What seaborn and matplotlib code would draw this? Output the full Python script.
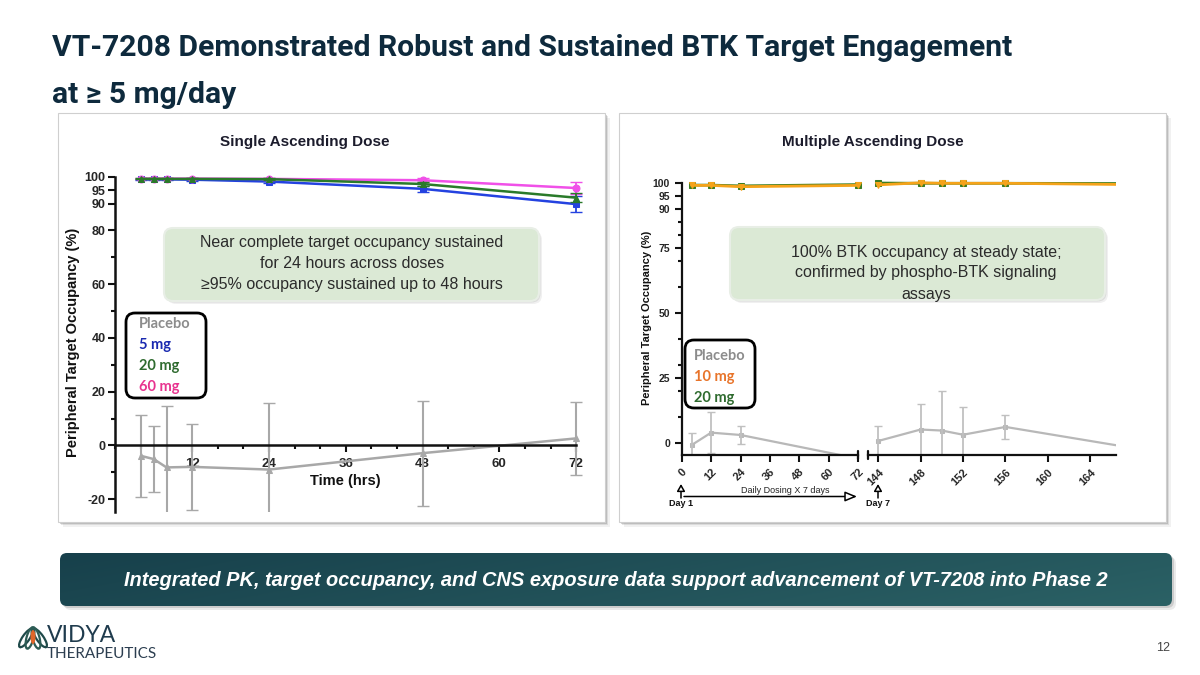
import numpy as np
import matplotlib
matplotlib.use("Agg")
import matplotlib.pyplot as plt
import seaborn as sns
from matplotlib.patches import FancyBboxPatch, Rectangle, Ellipse

sns.set_theme(style="ticks")
plt.rcParams['font.family'] = ['Liberation Sans', 'DejaVu Sans']

# ---- data ----
sad_time = [4, 6, 8, 12, 24, 48, 72]
sad_placebo = [-3.9, -5.1, -8.2, -8.0, -9.0, -2.9, 2.6]
sad_placebo_err = [15.2, 12.2, 23.0, 16.0, 24.6, 19.6, 13.6]
sad_5mg = [99.0, 99.0, 99.0, 98.9, 98.2, 95.5, 89.8]
sad_5mg_err = [0.3, 0.3, 0.3, 0.4, 0.6, 1.2, 3.0]
sad_20mg = [99.2, 99.2, 99.2, 99.2, 99.1, 97.3, 92.2]
sad_20mg_err = [0.2, 0.2, 0.2, 0.2, 0.3, 0.8, 1.6]
sad_60mg = [99.3, 99.3, 99.3, 99.3, 99.2, 98.7, 95.8]
sad_60mg_err = [0.2, 0.2, 0.2, 0.2, 0.3, 0.7, 2.4]

mad_time_d1 = [4, 12, 24, 72]
mad_10mg_d1 = [99.2, 99.2, 98.7, 99.2]
mad_20mg_d1 = [99.3, 99.3, 99.0, 99.5]
mad_placebo_d1 = [-0.7, 4.1, 3.2, -5.9]
mad_placebo_d1_err = [4.8, 8.0, 3.5, 0.0]

mad_time_d7 = [144, 148, 150, 152, 156, 168]
mad_10mg_d7 = [99.4, 100.2, 100.0, 100.0, 100.0, 99.5]
mad_20mg_d7 = [100.1, 100.0, 100.0, 100.0, 100.0, 99.9]
mad_placebo_d7 = [0.9, 5.3, 4.9, 3.3, 6.3, -1.8]
mad_placebo_d7_err = [5.7, 9.7, 15.2, 10.5, 4.7, 0.0]

sad_xticks = [12, 24, 36, 48, 60, 72]
sad_yticks = [-20, 0, 20, 40, 60, 80, 90, 95, 100]
mad_xticks_d1 = [0, 12, 24, 36, 48, 60, 72]
mad_xticks_d7 = [144, 148, 152, 156, 160, 164]
mad_yticks = [0, 25, 50, 75, 90, 95, 100]

C_BLUE, C_GREEN, C_MAG, C_GRAY = '#2442e0', '#2a7a2a', '#f050e8', '#a8a8a8'
C_ORANGE, C_MGREEN = '#f5a31a', '#3a7d22'

W, H = 1200, 675
fig = plt.figure(figsize=(12, 6.75), dpi=100)
fig.patch.set_facecolor('white')


def px_axes(x0, y0, x1, y1, z=1):
    return fig.add_axes([x0 / W, 1 - y1 / H, (x1 - x0) / W, (y1 - y0) / H], zorder=z)


# background layer: panels, banner, logo
bg = px_axes(0, 0, W, H, z=0)
bg.set_xlim(0, W)
bg.set_ylim(H, 0)
bg.axis('off')

for (x0, x1) in [(58, 605), (619, 1166)]:
    for k, a in [(5, 0.10), (3, 0.18), (1.5, 0.3)]:
        bg.add_patch(Rectangle((x0 + k, 113 + k), x1 - x0, 409, fc='#777777', ec='none', alpha=a))
    bg.add_patch(Rectangle((x0, 113), x1 - x0, 409, fc='white', ec='#cfcfcf', lw=0.8))

# banner with gradient
for k, a in [(4, 0.12), (2, 0.2)]:
    bg.add_patch(FancyBboxPatch((60 + k, 553 + k), 1112, 53, boxstyle="round,pad=0,rounding_size=7",
                                fc='#555555', ec='none', alpha=a))
banner = FancyBboxPatch((60, 553), 1112, 53, boxstyle="round,pad=0,rounding_size=7", fc='none', ec='none')
bg.add_patch(banner)
gx = np.linspace(0, 1, 256)
gy = np.linspace(0, 1, 32)[:, None]
c0 = np.array([0x17, 0x40, 0x4b]) / 255
c1 = np.array([0x2b, 0x61, 0x65]) / 255
t = np.clip(0.8 * gx[None, :] + 0.2 * gy, 0, 1)[..., None]
grad = c0 * (1 - t) + c1 * t
im = bg.imshow(grad, extent=(60, 1172, 606, 553), aspect='auto', zorder=2)
im.set_clip_path(banner)
bg.text(616, 580, "Integrated PK, target occupancy, and CNS exposure data support advancement of VT-7208 into Phase 2",
        ha='center', va='center', color='white', fontsize=14.4, fontweight='bold', fontstyle='italic', zorder=3)

# title
bg.text(52, 48, "VT-7208 Demonstrated Robust and Sustained BTK Target Engagement", ha='left', va='center',
        fontsize=21.7, fontweight='bold', color='#0e2a3d', family=['Roboto', 'DejaVu Sans'])
bg.text(52, 95, "at \u2265 5 mg/day", ha='left', va='center',
        fontsize=21.7, fontweight='bold', color='#0e2a3d', family=['Roboto', 'DejaVu Sans'])

# logo
for ang, dx, col in [(35, -7, '#1f4a4a'), (-35, 7, '#1f4a4a'), (15, -3, '#2d5c55'), (-15, 3, '#2d5c55')]:
    bg.add_patch(Ellipse((33 + dx, 638), 7, 22, angle=ang, fc='none', ec=col, lw=1.6))
bg.add_patch(Ellipse((33, 637), 5, 14, fc='#e0662a', ec='none'))
bg.text(47, 636, "VIDYA", ha='left', va='center', fontsize=16.5, color='#1f3b4d', family=['Lato', 'DejaVu Sans'])
bg.text(47, 654, "THERAPEUTICS", ha='left', va='center', fontsize=11, color='#2c3e50',
        family=['Lato', 'DejaVu Sans'])
bg.text(1163, 648, "12", ha='center', va='center', fontsize=9, color='#444444')

# panel titles and axis labels
bg.text(305, 142, "Single Ascending Dose", ha='center', va='center', fontsize=11, fontweight='bold', color='#1c1c2c')
bg.text(873, 142, "Multiple Ascending Dose", ha='center', va='center', fontsize=11, fontweight='bold', color='#1c1c2c')
bg.text(73, 342, "Peripheral Target Occupancy (%)", rotation=90, ha='center', va='center',
        fontsize=10.5, fontweight='bold', color='#111111')
bg.text(345, 481, "Time (hrs)", ha='center', va='center', fontsize=10.5, fontweight='bold', color='#111111')
bg.text(647, 318, "Peripheral Target Occupancy (%)", rotation=90, ha='center', va='center',
        fontsize=8, fontweight='bold', color='#111111')


def style_axis(ax):
    ax.set_facecolor('none')
    for s in ['top', 'right']:
        ax.spines[s].set_visible(False)
    for s in ['left', 'bottom']:
        ax.spines[s].set_linewidth(1.8)
        ax.spines[s].set_color('#111111')
    ax.tick_params(which='both', direction='out', width=1.5, color='#111111')
    ax.tick_params(which='major', length=5)
    ax.tick_params(which='minor', length=3)
    ax.set_xlabel('')
    ax.set_ylabel('')


# ---- Single ascending dose ----
axL = px_axes(115.3, 172.7, 115.3 + 74 * 6.4, 512)
sns.lineplot(x=sad_time, y=sad_placebo, ax=axL, color=C_GRAY, lw=1.8, marker='^', markersize=5,
             markeredgecolor=C_GRAY)
axL.errorbar(sad_time, sad_placebo, yerr=sad_placebo_err, fmt='none', ecolor=C_GRAY, elinewidth=1.5, capsize=4)
for yv, ye, col, mk in [(sad_5mg, sad_5mg_err, C_BLUE, 's'), (sad_60mg, sad_60mg_err, C_MAG, 'o'),
                        (sad_20mg, sad_20mg_err, C_GREEN, '^')]:
    sns.lineplot(x=sad_time, y=yv, ax=axL, color=col, lw=1.8, marker=mk, markersize=5, markeredgecolor=col)
    axL.errorbar(sad_time, yv, yerr=ye, fmt='none', ecolor=col, elinewidth=1.3, capsize=4)
axL.set_xlim(0, 74)
axL.set_ylim(-24.8, 101.5)
style_axis(axL)
axL.spines['left'].set_bounds(-24.8, 100)
axL.spines['bottom'].set_position(('data', 0))
axL.spines['bottom'].set_bounds(0, 72)
axL.set_xticks(sad_xticks)
axL.set_xticklabels([str(v) for v in sad_xticks], fontsize=9.5, fontweight='bold')
axL.set_xticks([v for v in range(0, 73, 4) if v % 12 != 0 or v == 0], minor=True)
axL.set_yticks(sad_yticks)
axL.set_yticklabels([str(v) for v in sad_yticks], fontsize=9, fontweight='bold')
axL.set_yticks([-10, 10, 30, 50, 70], minor=True)
axL.tick_params(axis='x', pad=4)
axL.tick_params(axis='y', pad=2)

# ---- Multiple ascending dose (broken axis) ----
axM1 = px_axes(681.7, 178.1, 681.7 + 74 * 2.453, 455)
axM2 = px_axes(868.3, 178.1, 868.3 + (166.4 - 143.06) * 10.6, 455)
for ax, tx, p, pe, g, o in [(axM1, mad_time_d1, mad_placebo_d1, mad_placebo_d1_err, mad_20mg_d1, mad_10mg_d1),
                            (axM2, mad_time_d7, mad_placebo_d7, mad_placebo_d7_err, mad_20mg_d7, mad_10mg_d7)]:
    sns.lineplot(x=tx, y=p, ax=ax, color='#b8b8b8', lw=1.6, marker='s', markersize=3.5, markeredgecolor='#b8b8b8')
    ax.errorbar(tx, p, yerr=pe, fmt='none', ecolor='#c0c0c0', elinewidth=1.3, capsize=3)
    sns.lineplot(x=tx, y=g, ax=ax, color=C_MGREEN, lw=2, marker='s', markersize=4, markeredgecolor=C_MGREEN)
    sns.lineplot(x=tx, y=o, ax=ax, color=C_ORANGE, lw=2, marker='v', markersize=4, markeredgecolor=C_ORANGE)
    ax.set_ylim(-4.5, 102)
    style_axis(ax)
    ax.spines['bottom'].set_linewidth(1.6)
    ax.spines['left'].set_linewidth(1.6)

axM1.set_xlim(0, 74)
axM1.spines['left'].set_bounds(-4.5, 100)
axM1.spines['bottom'].set_bounds(0, 72)
axM1.set_xticks(mad_xticks_d1)
axM1.set_xticklabels([str(v) for v in mad_xticks_d1], rotation=45, ha='right', rotation_mode='anchor',
                     fontsize=8, fontweight='bold')
axM1.set_yticks(mad_yticks)
axM1.set_yticklabels([str(v) for v in mad_yticks], fontsize=7.5, fontweight='bold')
axM1.set_yticks([10, 20, 30, 40, 60, 70, 80, 85], minor=True)
axM1.plot([72, 72], [-6.0, -3.0], color='#111111', lw=1.6, clip_on=False)

axM2.set_xlim(143.06, 166.4)
axM2.spines['left'].set_visible(False)
axM2.set_yticks([])
axM2.set_xticks(mad_xticks_d7)
axM2.set_xticklabels([str(v) for v in mad_xticks_d7], rotation=45, ha='right', rotation_mode='anchor',
                     fontsize=8, fontweight='bold')
axM2.plot([143.06, 143.06], [-6.0, -3.0], color='#111111', lw=1.6, clip_on=False)

# overlay: callouts, legends, dosing annotations
ov = px_axes(0, 0, W, H, z=5)
ov.set_xlim(0, W)
ov.set_ylim(H, 0)
ov.axis('off')
ov.set_facecolor('none')

for (x0, y0, x1, y1) in [(164, 228, 539, 301), (730, 227, 1105, 300)]:
    for k, a in [(3, 0.12), (1.5, 0.2)]:
        ov.add_patch(FancyBboxPatch((x0 + k, y0 + k), x1 - x0, y1 - y0, boxstyle="round,pad=0,rounding_size=9",
                                    fc='#888888', ec='none', alpha=a))
    ov.add_patch(FancyBboxPatch((x0, y0), x1 - x0, y1 - y0, boxstyle="round,pad=0,rounding_size=9",
                                fc='#dbe9d5', ec='#e8eee6', lw=1.5))

for txt, yy in [("Near complete target occupancy sustained", 242), ("for 24 hours across doses", 263),
                ("\u226595% occupancy sustained up to 48 hours", 284)]:
    ov.text(352, yy, txt, ha='center', va='center', fontsize=11.5, color='#2b2b2b')
for txt, yy in [("100% BTK occupancy at steady state;", 252), ("confirmed by phospho-BTK signaling", 273),
                ("assays", 295)]:
    ov.text(926, yy, txt, ha='center', va='center', fontsize=11.5, color='#2b2b2b')

legend_font = ['Lato', 'DejaVu Sans']
ov.add_patch(FancyBboxPatch((126, 313), 80, 85, boxstyle="round,pad=0,rounding_size=9", fc='white', ec='black', lw=2))
for txt, col, yy in [("Placebo", '#8c8c8c', 324), ("5 mg", '#1a2ab0', 345), ("20 mg", '#2f6b2f', 366),
                     ("60 mg", '#e8338f', 387)]:
    ov.text(139, yy, txt, ha='left', va='center', fontsize=10.5, fontweight='bold', color=col, family=legend_font)
ov.add_patch(FancyBboxPatch((685, 340), 70, 68, boxstyle="round,pad=0,rounding_size=9", fc='white', ec='black', lw=2))
for txt, col, yy in [("Placebo", '#8c8c8c', 356), ("10 mg", '#e8742a', 377), ("20 mg", '#2f6b2f', 398)]:
    ov.text(694, yy, txt, ha='left', va='center', fontsize=10.5, fontweight='bold', color=col, family=legend_font)

for xx, lab in [(681, "Day 1"), (878, "Day 7")]:
    ov.annotate('', xy=(xx, 484), xytext=(xx, 498),
                arrowprops=dict(arrowstyle='-|>,head_width=0.2,head_length=0.35', fc='white', ec='black',
                                lw=1.1, shrinkA=0, shrinkB=0))
    ov.text(xx, 503, lab, ha='center', va='center', fontsize=6.5, fontweight='bold', color='#111111')
ov.annotate('', xy=(857, 496.5), xytext=(684, 496.5),
            arrowprops=dict(arrowstyle='-|>,head_width=0.25,head_length=0.6', fc='white', ec='black', lw=1.1,
                            shrinkA=0, shrinkB=0))
ov.text(785, 490.5, "Daily Dosing X 7 days", ha='center', va='center', fontsize=6.5, color='#222222')

fig.savefig('out.png', dpi=100)
